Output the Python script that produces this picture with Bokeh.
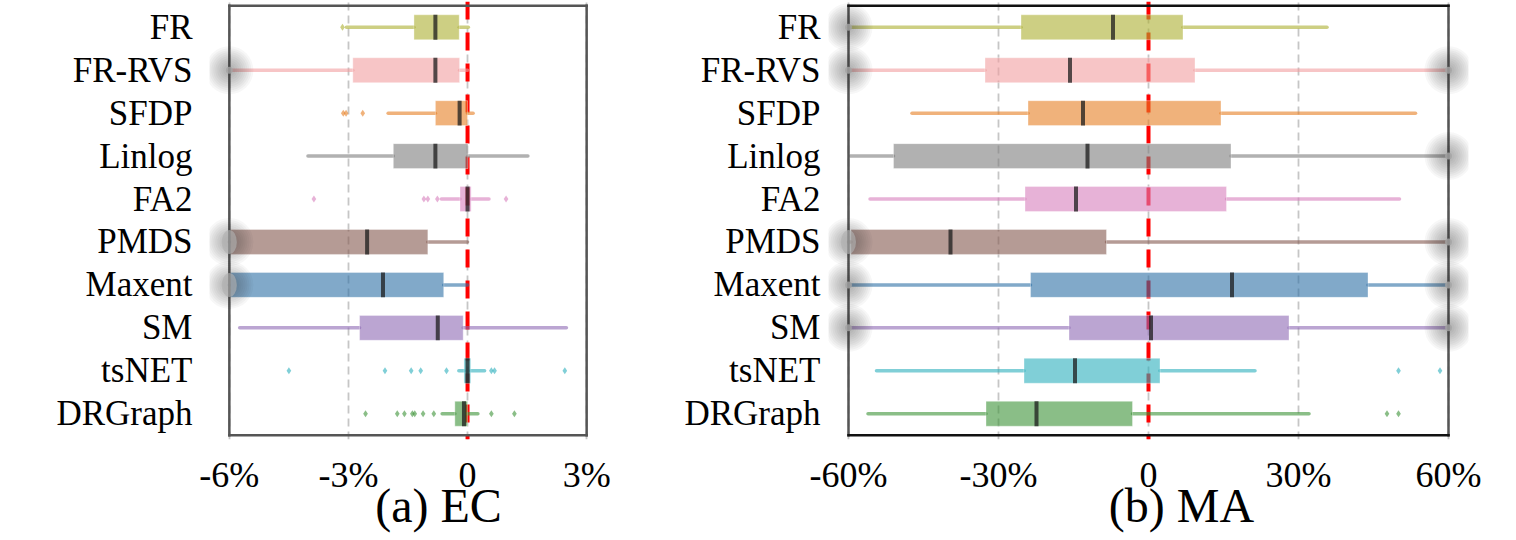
from bokeh.plotting import figure
from bokeh.layouts import row
from bokeh.models import Range1d, FactorRange, FixedTicker, Span, LinearAxis
from bokeh.embed import file_html
from bokeh.resources import INLINE

methods = ["FR", "FR-RVS", "SFDP", "Linlog", "FA2", "PMDS", "Maxent", "SM", "tsNET", "DRGraph"]

# (a) EC, relative change in percent: whisker ends, quartiles and medians
ec_lo = [-3.05, -6.0, -2.0, -4.02, -0.66, -6.0, -6.0, -5.74, -0.22, -0.64]
ec_q1 = [-1.35, -2.89, -0.81, -1.87, -0.19, -6.0, -6.0, -2.72, -0.09, -0.32]
ec_med = [-0.81, -0.81, -0.2, -0.81, 0.0, -2.53, -2.13, -0.75, 0.0, -0.09]
ec_q3 = [-0.21, -0.2, 0.0, 0.01, 0.09, -1.0, -0.6, -0.11, 0.08, 0.0]
ec_hi = [0.02, 0.0, 0.14, 1.52, 0.54, 0.0, 0.0, 2.49, 0.43, 0.26]
ec_out_method = ["FR",
                 "SFDP", "SFDP", "SFDP",
                 "FA2", "FA2", "FA2", "FA2", "FA2",
                 "tsNET", "tsNET", "tsNET", "tsNET", "tsNET", "tsNET", "tsNET", "tsNET",
                 "DRGraph", "DRGraph", "DRGraph", "DRGraph", "DRGraph", "DRGraph", "DRGraph",
                 "DRGraph", "DRGraph"]
ec_out_value = [-3.15,
                -3.13, -3.06, -2.64,
                -3.87, -1.1, -1.0, -0.76, 0.97,
                -4.5, -2.08, -1.42, -1.18, -0.53, 0.6, 0.68, 2.45,
                -2.57, -1.77, -1.59, -1.39, -1.33, -1.12, -0.85, 0.6, 1.18]
ec_ticks = [-6, -3, 0, 3]
ec_tick_labels = ["-6%", "-3%", "0", "3%"]

# (b) MA, relative change in percent
ma_lo = [-60.0, -60.0, -47.3, -59.7, -55.7, -60.0, -60.0, -60.0, -54.4, -56.1]
ma_q1 = [-25.5, -32.7, -24.1, -51.0, -24.7, -59.5, -23.6, -15.9, -24.9, -32.5]
ma_med = [-7.1, -15.7, -13.1, -12.2, -14.5, -39.6, 16.7, 0.5, -14.7, -22.4]
ma_q3 = [6.9, 9.3, 14.5, 16.5, 15.6, -8.4, 43.9, 28.1, 2.3, -3.2]
ma_hi = [35.7, 60.0, 53.4, 60.0, 50.2, 60.0, 60.0, 60.0, 21.3, 32.1]
ma_out_method = ["tsNET", "tsNET", "DRGraph", "DRGraph"]
ma_out_value = [50.0, 58.3, 47.7, 50.0]
ma_ticks = [-60, -30, 0, 30, 60]
ma_tick_labels = ["-60%", "-30%", "0", "30%", "60%"]

palette = ["#acaf30", "#f29ea0", "#e67f23", "#7d7d7d", "#d77fbc",
           "#84584e", "#2d70a5", "#8e69b4", "#2bafbc", "#3c9337"]
color_of = dict(zip(methods, palette))

FONT = "Liberation Serif"
BOX_H = 0.58


def bare_axis(ax):
    ax.axis_line_color = None
    ax.major_tick_line_color = None
    ax.minor_tick_line_color = None
    ax.major_tick_out = 0
    ax.major_tick_in = 0
    ax.major_label_text_font = FONT
    ax.major_label_text_color = "black"


def panel(lo, q1, med, q3, hi, out_m, out_v, lim, pad, ticks, tick_labels,
          title, title_x, width, border_left, border_right, standoff,
          h_color, v_color):
    xmin, xmax = lim
    p = figure(width=width, height=540, output_backend="svg", toolbar_location=None,
               x_range=Range1d(xmin - pad, xmax + pad),
               y_range=FactorRange(factors=methods[::-1], range_padding=0.1,
                                   range_padding_units="absolute"),
               min_border_left=border_left, min_border_right=border_right,
               min_border_top=1, min_border_bottom=101)
    p.outline_line_color = None
    p.background_fill_color = "white"
    p.border_fill_color = "white"

    # axes
    p.xaxis.ticker = FixedTicker(ticks=ticks)
    p.xaxis.major_label_overrides = dict(zip(ticks, tick_labels))
    bare_axis(p.xaxis[0])
    bare_axis(p.yaxis[0])
    p.xaxis.major_label_text_font_size = "36px"
    p.xaxis.major_label_standoff = 15
    p.yaxis.major_label_text_font_size = "35px"
    p.yaxis.major_label_standoff = standoff

    # panel caption, set under the tick labels
    cap = LinearAxis(ticker=FixedTicker(ticks=[title_x]),
                     major_label_overrides={title_x: title})
    bare_axis(cap)
    cap.major_label_text_font_size = "48px"
    cap.major_label_standoff = -19
    p.add_layout(cap, "below")

    p.ygrid.grid_line_color = None
    p.xgrid.ticker = FixedTicker(ticks=ticks)
    p.xgrid.grid_line_color = "#c6c6c6"
    p.xgrid.grid_line_dash = "8 5"
    p.xgrid.grid_line_width = 1.8

    # zero reference line, beneath the boxes
    p.add_layout(Span(location=0, dimension="height", line_color="#ff0000",
                      line_width=4, line_dash="18 13", level="underlay"))

    # whiskers
    p.segment(x0=lo, x1=q1, y0=methods, y1=methods, line_color=palette,
              line_alpha=0.6, line_width=3.5, line_cap="round")
    p.segment(x0=q3, x1=hi, y0=methods, y1=methods, line_color=palette,
              line_alpha=0.6, line_width=3.5, line_cap="round")
    # boxes
    p.hbar(y=methods, left=q1, right=q3, height=BOX_H, fill_color=palette,
           fill_alpha=0.6, line_color="white", line_alpha=0.35, line_width=1)
    # medians
    p.rect(x=med, y=methods, width=4, width_units="screen", height=BOX_H,
           fill_color="#1c1c1c", fill_alpha=0.75, line_color=None)
    # outliers
    p.scatter(x=out_v, y=out_m, marker="diamond", size=7,
              fill_color=[color_of[m] for m in out_m], fill_alpha=0.6, line_color=None)

    # frame
    n = len(methods)
    p.segment(x0=[xmin, xmax, xmin, xmin], x1=[xmin, xmax, xmax, xmax],
              y0=[0, 0, 0, n], y1=[n, n, 0, n],
              line_color=[v_color, v_color, h_color, h_color], line_width=2.5,
              line_cap="square")

    # soft markers where a whisker runs past the axis limit
    gx, gy, big = [], [], []
    for m, a, b, c in zip(methods, lo, hi, q1):
        if a <= xmin:
            gx.append(xmin); gy.append(m); big.append(c - xmin < 0.01 * (xmax - xmin))
        if b >= xmax:
            gx.append(xmax); gy.append(m); big.append(False)
    for r in range(24, 4, -2):
        p.scatter(x=gx, y=gy, size=2 * r, fill_color="#3a3a3a", fill_alpha=0.04,
                  line_color=None)
    sx = [x for x, b in zip(gx, big) if not b]
    sy = [y for y, b in zip(gy, big) if not b]
    bx = [x for x, b in zip(gx, big) if b]
    by = [y for y, b in zip(gy, big) if b]
    p.scatter(x=sx, y=sy, size=7, fill_color="#a4a4a4", fill_alpha=0.8, line_color=None)
    p.ellipse(x=bx, y=by, width=15, height=24, width_units="screen",
              height_units="screen", fill_color="#b0b0b0", fill_alpha=0.65, line_color=None)
    return p


p1 = panel(ec_lo, ec_q1, ec_med, ec_q3, ec_hi, ec_out_method, ec_out_value,
           (-6, 3), 0.5, ec_ticks, ec_tick_labels, "(a) EC", -0.73,
           620, 209, 14, 17, "#555555", "#555555")
p2 = panel(ma_lo, ma_q1, ma_med, ma_q3, ma_hi, ma_out_method, ma_out_value,
           (-60, 60), 4, ma_ticks, ma_tick_labels, "(b) MA", 6.6,
           896, 208, 48, 8, "#111111", "#555555")

layout = row(p1, p2)
open("out.html", "w").write(file_html(layout, INLINE))
